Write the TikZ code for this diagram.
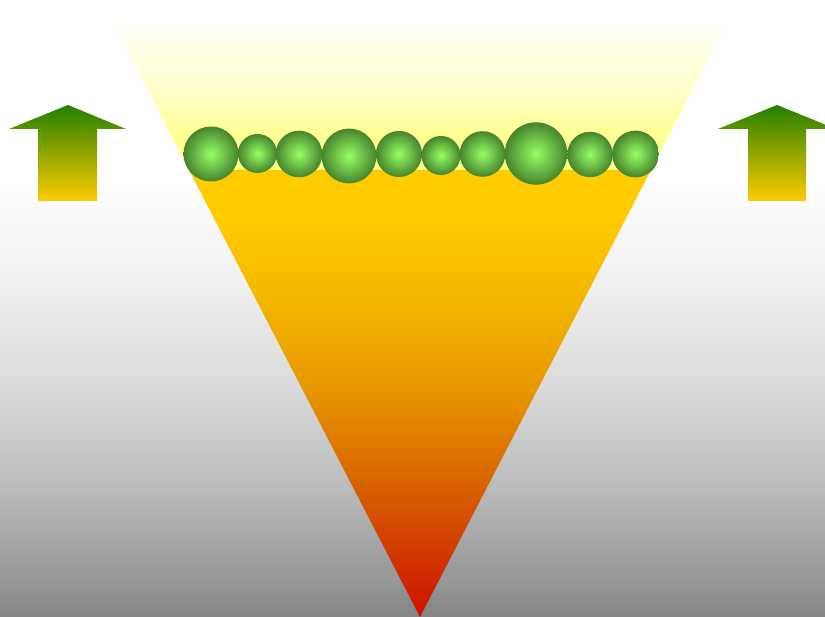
\documentclass[tikz,border=0pt]{standalone}
\usepackage{tikz}
\usetikzlibrary{calc}
\definecolor{peaLight}{RGB}{150, 255, 100}
\definecolor{peaDark}{RGB}{70, 132, 45}
\definecolor{leaf}{RGB}{34, 128, 0}
\definecolor{amber}{RGB}{255, 204, 0}
\definecolor{amberMid}{RGB}{245, 185, 0}
\definecolor{orangeMid}{RGB}{230, 150, 0}
\definecolor{orangeLow}{RGB}{215, 95, 0}
\definecolor{rust}{RGB}{204, 17, 0}
\definecolor{paleY}{RGB}{255, 255, 128}
\definecolor{paleY2}{RGB}{255, 255, 150}
\definecolor{paleY3}{RGB}{255, 255, 200}
\definecolor{floorGray}{RGB}{132, 132, 132}
\definecolor{floor2}{RGB}{150, 150, 150}
\definecolor{floor3}{RGB}{190, 190, 190}
\definecolor{floor4}{RGB}{220, 220, 220}
\definecolor{floor5}{RGB}{240, 240, 240}

% vertical shadings: 25bp = bottom of path, 75bp = top of path
\pgfdeclareverticalshading{floorshade}{100bp}{
  color(0bp)=(floorGray); color(25bp)=(floorGray);
  color(29bp)=(floor2); color(40.7bp)=(floor3);
  color(52.1bp)=(floor4); color(63.6bp)=(floor5);
  color(75bp)=(white); color(100bp)=(white)}
\pgfdeclareverticalshading{lightshade}{100bp}{
  color(0bp)=(paleY); color(25bp)=(paleY);
  color(38bp)=(paleY2); color(50bp)=(paleY3);
  color(75bp)=(white); color(100bp)=(white)}
\pgfdeclareverticalshading{heatshade}{100bp}{
  color(0bp)=(rust); color(25bp)=(rust);
  color(39.2bp)=(orangeLow); color(50.4bp)=(orangeMid);
  color(61.6bp)=(amberMid); color(70bp)=(amber);
  color(75bp)=(amber); color(100bp)=(amber)}

\begin{document}
\begin{tikzpicture}[x=0.02cm, y=-0.02cm,
    peaball/.style={circle, draw=none, inner sep=0pt, shading=radial,
      inner color=peaLight, outer color=peaDark},
    uparrow/.style={top color=leaf, bottom color=amber}]
  \useasboundingbox (0,0) rectangle (825,617);
  \clip (0,0) rectangle (825,617);

  % Background
  \fill[white] (0,0) rectangle (825,180);
  \shade[shading=floorshade] (0,180) rectangle (825,617);

  % Funnel
  \coordinate (tl) at (110,17);
  \coordinate (tr) at (730,17);
  \coordinate (ml) at (189,170);
  \coordinate (mr) at (651,170);
  \coordinate (apex) at (420,617);
  \shade[shading=lightshade] (tl) -- (tr) -- (mr) -- (ml) -- cycle;
  \shade[shading=heatshade] (ml) -- (mr) -- (apex) -- cycle;

  % Arrows
  \shade[uparrow] (68,105) -- (126,129) -- (97,129) -- (97,201)
    -- (38,201) -- (38,129) -- (9,129) -- cycle;
  \shade[uparrow] (777,105) -- (836,129) -- (806,129) -- (806,201)
    -- (748,201) -- (748,129) -- (718,129) -- cycle;

  % Peas
  \foreach \cx/\cy/\r [count=\i] in {211/154/27.5, 257.5/153.5/19.5, 299/154/23.3,
      349/156/27.4, 399/154/23, 441/155.5/19.5, 482.5/154/22.8,
      536/153.5/31.2, 590/154.5/22.7, 635.5/154/23.4}
    \node[peaball, minimum size={2*\r*0.02cm}] (pea\i) at (\cx,\cy) {};
\end{tikzpicture}
\end{document}
